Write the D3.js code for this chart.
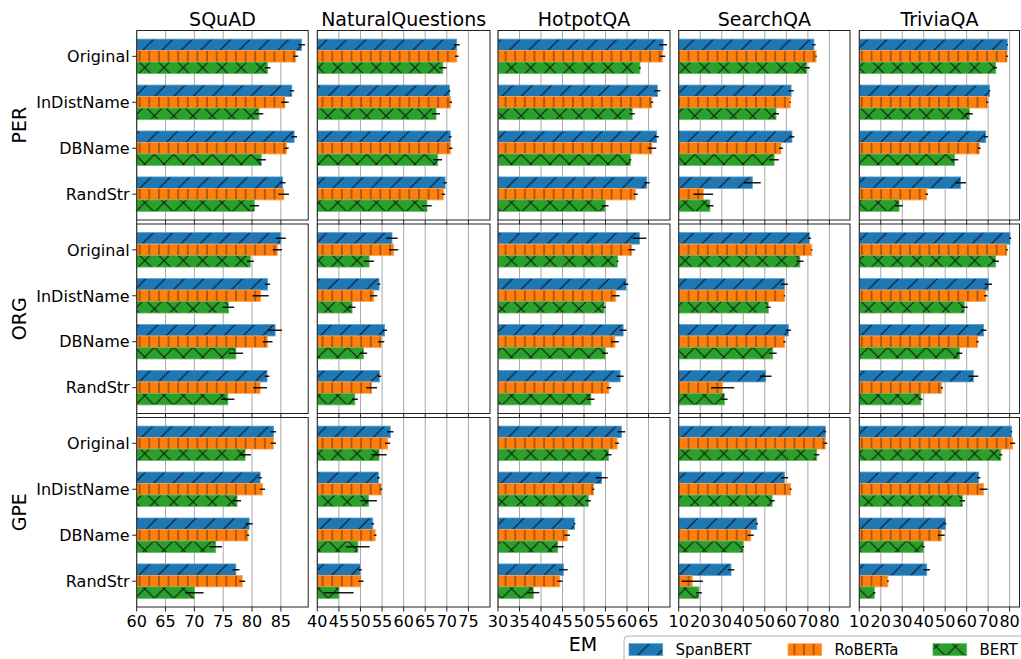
<!DOCTYPE html>
<html>
<head>
<meta charset="utf-8">
<script src="https://cdn.jsdelivr.net/npm/d3@7"></script>
<style>
  html, body { margin: 0; padding: 0; background: #fff; }
  svg { display: block; font-family: "DejaVu Sans", sans-serif; }
</style>
</head>
<body>
<svg id="chart" width="1021" height="659"></svg>
<script>
// ---------------- data ----------------
const datasets = ["SQuAD", "NaturalQuestions", "HotpotQA", "SearchQA", "TriviaQA"];
const entityTypes = ["PER", "ORG", "GPE"];
const categories = ["Original", "InDistName", "DBName", "RandStr"];
const models = ["SpanBERT", "RoBERTa", "BERT"];
const xDomains = [[60, 89.74], [40, 80], [30, 70], [10, 89.56], [10, 84.6]];
const xTickValues = [
  [60, 65, 70, 75, 80, 85],
  [40, 45, 50, 55, 60, 65, 70, 75],
  [30, 35, 40, 45, 50, 55, 60, 65],
  [10, 20, 30, 40, 50, 60, 70, 80],
  [10, 20, 30, 40, 50, 60, 70, 80]
];
const xLabel = "EM";

// EM means: [entityType][dataset][category]
const spanbertEM = [
  [[88.6, 86.9, 87.3, 85.3], [72.3, 70.6, 70.8, 69.6], [68.4, 67.05, 66.9, 64.6], [72.8, 62.2, 62.6, 44.2], [78.9, 70.6, 68.9, 57.2]],
  [[85.0, 82.7, 84.0, 82.6], [57.3, 54.3, 55.6, 54.4], [62.9, 59.8, 59.1, 58.4], [70.7, 59.1, 60.9, 50.4], [80.2, 70.1, 67.9, 63.1]],
  [[83.7, 81.4, 79.5, 77.2], [56.9, 54.15, 52.85, 49.9], [58.7, 54.1, 47.8, 45.2], [78.1, 59.2, 46.3, 34.3], [80.9, 65.6, 50.1, 41.4]]
];
const robertaEM = [
  [[87.6, 85.7, 86.0, 85.5], [72.3, 70.9, 70.9, 69.2], [68.3, 65.8, 65.8, 62.0], [73.8, 61.8, 57.5, 21.4], [78.8, 69.6, 65.9, 41.4]],
  [[84.4, 81.5, 82.7, 81.4], [57.7, 53.1, 54.8, 52.6], [61.1, 57.4, 57.2, 55.8], [71.8, 59.1, 59.1, 30.4], [78.7, 68.9, 65.1, 48.4]],
  [[83.7, 81.8, 79.3, 78.3], [56.3, 54.8, 53.4, 50.1], [57.7, 52.2, 46.1, 44.4], [78.1, 62.0, 43.5, 16.3], [81.4, 67.9, 48.2, 23.3]]
];
const bertEM = [
  [[82.7, 81.2, 81.6, 80.4], [69.1, 67.5, 67.9, 65.4], [63.0, 61.2, 60.8, 54.9], [69.4, 55.2, 54.3, 24.5], [73.5, 61.2, 54.4, 28.5]],
  [[79.7, 75.9, 77.2, 75.8], [52.0, 48.05, 50.7, 48.7], [57.8, 54.7, 54.9, 51.6], [66.3, 51.6, 53.7, 31.2], [73.5, 58.9, 56.6, 38.7]],
  [[78.8, 77.4, 73.7, 70.0], [54.3, 51.9, 49.4, 45.0], [55.7, 51.0, 43.9, 38.2], [74.1, 53.4, 39.9, 19.4], [75.9, 58.0, 39.9, 17.0]]
];
// error (half widths)
const spanbertErr = [
  [[0.58, 0.4, 0.5, 0.5], [0.7, 0.2, 0.3, 0.4], [0.9, 0.7, 0.5, 0.65], [0.8, 1.2, 1.1, 3.9], [0.3, 0.4, 1.0, 2.5]],
  [[0.87, 0.45, 1.2, 0.4], [1.3, 0.3, 0.55, 0.4], [1.6, 0.5, 0.8, 0.8], [0.8, 1.6, 1.2, 2.7], [0.5, 1.7, 1.3, 2.3]],
  [[0.45, 0.3, 0.6, 0.6], [0.75, 0.3, 0.3, 0.4], [0.87, 1.4, 0.2, 1.0], [0.4, 1.6, 0.5, 1.5], [0.3, 0.8, 0.4, 1.5]]
];
const robertaErr = [
  [[0.4, 0.65, 0.35, 0.9], [0.4, 0.3, 0.4, 0.4], [0.6, 0.3, 1.0, 0.5], [0.3, 0.3, 0.9, 4.6], [0.4, 0.5, 0.6, 0.6]],
  [[0.8, 1.4, 0.85, 1.2], [1.05, 0.8, 0.7, 1.25], [0.8, 0.9, 0.9, 0.5], [0.3, 0.3, 0.5, 5.4], [0.4, 0.8, 0.5, 0.5]],
  [[0.45, 0.45, 0.2, 0.5], [0.6, 0.2, 0.3, 0.6], [0.45, 0.2, 0.65, 0.6], [0.9, 0.4, 1.4, 5.0], [1.2, 1.8, 1.6, 0.4]]
];
const bertErr = [
  [[0.5, 0.75, 0.8, 0.8], [0.85, 0.9, 1.0, 1.1], [0.2, 0.6, 0.2, 0.8], [1.5, 1.4, 2.2, 1.7], [0.6, 1.7, 1.7, 1.8]],
  [[0.6, 1.0, 1.25, 1.15], [1.15, 0.8, 0.85, 0.7], [0.2, 0.4, 0.65, 0.85], [1.7, 1.1, 1.8, 1.5], [1.5, 1.55, 1.4, 0.7]],
  [[1.0, 0.7, 1.1, 1.6], [1.75, 1.9, 2.7, 3.4], [0.7, 0.6, 1.35, 1.4], [1.2, 1.2, 0.5, 1.35], [0.7, 1.2, 0.6, 0.5]]
];

const meansByModel = [spanbertEM, robertaEM, bertEM];
const errsByModel = [spanbertErr, robertaErr, bertErr];
const colors = ["#1f77b4", "#ff7f0e", "#2ca02c"];
const edgeColors = ["#5a9fd0", "#ffa552", "#62bb62"];
const hatchIds = ["hatchSlash", "hatchVert", "hatchCross"];

// ---------------- layout ----------------
const colLeft = [136.7, 317.3, 498, 678.7, 859.3];
const colRight = [308.2, 490, 670, 850, 1019.5];
const rowTop = [30.5, 224, 417.5];
const rowH = 189.5;

const svg = d3.select("#chart");
const defs = svg.append("defs");

// hatch patterns (user space so they align globally like matplotlib)
function makePattern(id, color, size, pathD, opacity) {
  const p = defs.append("pattern")
    .attr("id", id)
    .attr("patternUnits", "userSpaceOnUse")
    .attr("width", size).attr("height", size);
  p.append("rect").attr("width", size).attr("height", size).attr("fill", color);
  p.append("path").attr("d", pathD)
    .attr("stroke", "#000").attr("stroke-width", 1).attr("stroke-opacity", opacity)
    .attr("fill", "none");
}
const P = 19.3, q = P / 4;
const slash = `M0,${P} L${P},0 M${-q},${q} L${q},${-q} M${P - q},${P + q} L${P + q},${P - q}`;
const back = `M0,0 L${P},${P} M${-q},${P - q} L${q},${P + q} M${P - q},${-q} L${P + q},${q}`;
makePattern("hatchSlash", colors[0], P, slash, 0.85);
makePattern("hatchCross", colors[2], P, slash + " " + back, 0.85);
const V = 9.63;
makePattern("hatchVert", colors[1], V, `M${V / 2},0 L${V / 2},${V}`, 0.6);

const yDomain = [-0.5625, 3.5625];
const barH = 0.25;

entityTypes.forEach((ent, r) => {
  const y = d3.scaleLinear().domain(yDomain).range([rowTop[r], rowTop[r] + rowH]);
  datasets.forEach((ds, c) => {
    const x = d3.scaleLinear().domain(xDomains[c]).range([colLeft[c], colRight[c]]);
    const g = svg.append("g");
    const clipId = `clip-${r}-${c}`;
    defs.append("clipPath").attr("id", clipId).append("rect")
      .attr("x", colLeft[c]).attr("y", rowTop[r])
      .attr("width", colRight[c] - colLeft[c]).attr("height", rowH);

    // grid lines
    g.append("g").selectAll("line").data(xTickValues[c]).join("line")
      .attr("x1", d => x(d)).attr("x2", d => x(d))
      .attr("y1", rowTop[r]).attr("y2", rowTop[r] + rowH)
      .attr("stroke", "#a8a8a8").attr("stroke-width", 1);

    const plot = g.append("g").attr("clip-path", `url(#${clipId})`);
    models.forEach((m, j) => {
      const vals = meansByModel[j][r][c];
      const errs = errsByModel[j][r][c];
      const rows = categories.map((cat, i) => ({ i, v: vals[i], e: errs[i] }));
      plot.append("g").selectAll("rect").data(rows).join("rect")
        .attr("x", x(xDomains[c][0]))
        .attr("y", d => y(d.i + (j - 1) * barH - barH / 2))
        .attr("width", d => x(d.v) - x(xDomains[c][0]))
        .attr("height", y(barH) - y(0))
        .attr("fill", `url(#${hatchIds[j]})`)
        .attr("stroke", edgeColors[j]).attr("stroke-width", 0.8);
    });
    models.forEach((m, j) => {
      const vals = meansByModel[j][r][c];
      const errs = errsByModel[j][r][c];
      const rows = categories.map((cat, i) => ({ i, v: vals[i], e: errs[i] }));
      plot.append("g").selectAll("line").data(rows).join("line")
        .attr("x1", d => x(d.v - d.e)).attr("x2", d => x(d.v + d.e))
        .attr("y1", d => y(d.i + (j - 1) * barH)).attr("y2", d => y(d.i + (j - 1) * barH))
        .attr("stroke", "#000").attr("stroke-width", 1.5).attr("stroke-opacity", 0.9);
    });

    // frame
    g.append("rect")
      .attr("x", colLeft[c]).attr("y", rowTop[r])
      .attr("width", colRight[c] - colLeft[c]).attr("height", rowH)
      .attr("fill", "none").attr("stroke", "#222").attr("stroke-width", 1);

    // bottom tick marks
    g.append("g").selectAll("line").data(xTickValues[c]).join("line")
      .attr("x1", d => x(d)).attr("x2", d => x(d))
      .attr("y1", rowTop[r] + rowH).attr("y2", rowTop[r] + rowH + 4.5)
      .attr("stroke", "#222").attr("stroke-width", 1);

    if (r === entityTypes.length - 1) {
      g.append("g").selectAll("text").data(xTickValues[c]).join("text")
        .attr("x", d => x(d)).attr("y", rowTop[r] + rowH + 19.5)
        .attr("text-anchor", "middle").attr("font-size", 16).attr("fill", "#000")
        .text(d => d);
    }
    if (r === 0) {
      g.append("text")
        .attr("x", (colLeft[c] + colRight[c]) / 2).attr("y", 25.5)
        .attr("text-anchor", "middle").attr("font-size", 19).attr("fill", "#000")
        .text(ds);
    }
    if (c === 0) {
      const yt = g.append("g");
      yt.selectAll("line").data(categories).join("line")
        .attr("x1", colLeft[c] - 4.5).attr("x2", colLeft[c])
        .attr("y1", (d, i) => y(i)).attr("y2", (d, i) => y(i))
        .attr("stroke", "#222").attr("stroke-width", 1);
      yt.selectAll("text").data(categories).join("text")
        .attr("x", colLeft[c] - 7).attr("y", (d, i) => y(i))
        .attr("dy", "0.36em").attr("text-anchor", "end")
        .attr("font-size", 16).attr("fill", "#000")
        .text(d => d);
      svg.append("text")
        .attr("transform", `translate(25.5,${rowTop[r] + rowH / 2}) rotate(-90)`)
        .attr("text-anchor", "middle").attr("font-size", 19).attr("fill", "#000")
        .text(ent);
    }
  });
});

// x label
svg.append("text").attr("x", 583).attr("y", 650.5)
  .attr("text-anchor", "middle").attr("font-size", 19).attr("fill", "#000")
  .text(xLabel);

// legend
const lg = svg.append("g");
lg.append("rect").attr("x", 624).attr("y", 636).attr("width", 420).attr("height", 40)
  .attr("rx", 4).attr("fill", "#fff").attr("fill-opacity", 0.8)
  .attr("stroke", "#b0b0b0").attr("stroke-width", 1);
const legX = [629, 788, 933];
models.forEach((m, j) => {
  lg.append("rect").attr("x", legX[j]).attr("y", 643.7).attr("width", 33.7).attr("height", 11.8)
    .attr("fill", `url(#${hatchIds[j]})`).attr("stroke", edgeColors[j]).attr("stroke-width", 0.8);
  lg.append("text").attr("x", legX[j] + 46.5).attr("y", 650).attr("dy", "0.36em")
    .attr("font-size", 15).attr("fill", "#000").text(m);
});
</script>
</body>
</html>
